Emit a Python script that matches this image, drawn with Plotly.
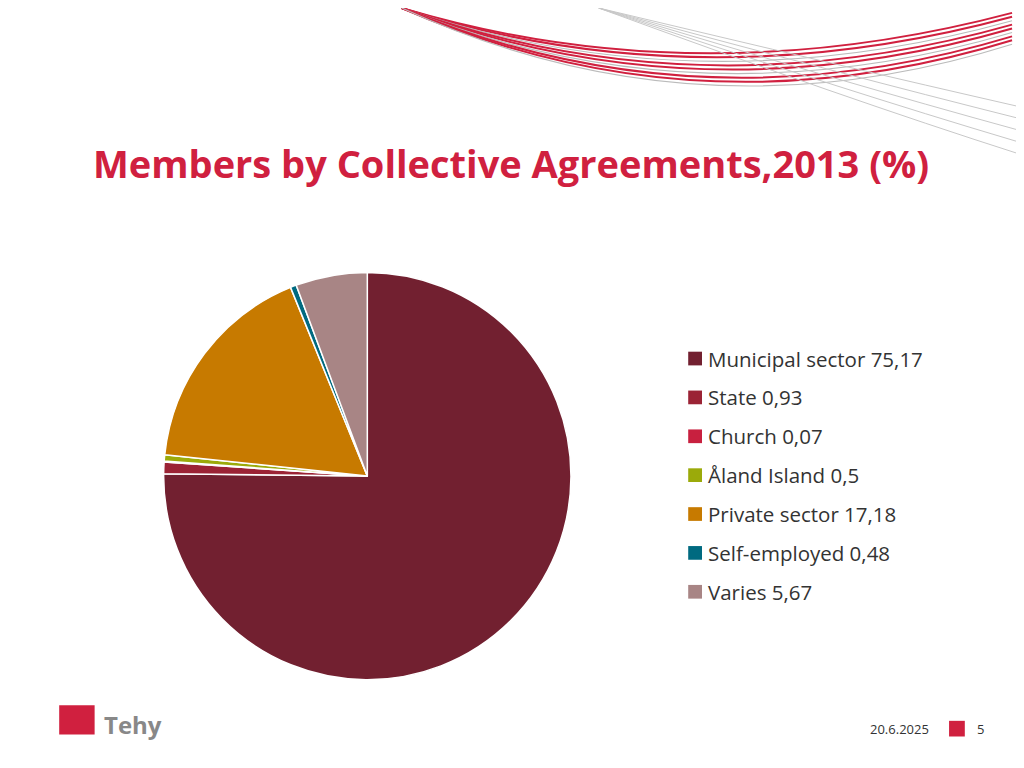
import plotly.graph_objects as go

labels = ["Municipal sector", "State", "Church", "Åland Island", "Private sector", "Self-employed", "Varies"]
values = [75.17, 0.93, 0.07, 0.5, 17.18, 0.48, 5.67]
value_text = ["75,17", "0,93", "0,07", "0,5", "17,18", "0,48", "5,67"]
colors = ["#722030", "#9B2335", "#C8203F", "#9BAA0A", "#C77A00", "#006A80", "#A88585"]

W, H = 1024, 768
fig = go.Figure()
fig.add_trace(go.Pie(
    labels=labels, values=values, sort=False, direction="clockwise", rotation=0,
    marker=dict(colors=colors, line=dict(color="white", width=1.5)),
    textinfo="none", hoverinfo="label+value", showlegend=False,
    domain=dict(x=[157 / W, 573 / W], y=[1 - 686 / H, 1 - 270 / H]),
))

shapes = []
annotations = []
# manual legend
for i, (lab, txt, col) in enumerate(zip(labels, value_text, colors)):
    yc = 1 - (358 + 39.7 * i) / H
    shapes.append(dict(type="rect", xref="paper", yref="paper",
                       x0=691 / W, x1=705 / W, y0=yc - 7 / H, y1=yc + 7 / H,
                       fillcolor=col, line=dict(width=0)))
    annotations.append(dict(x=709 / W, y=yc, xref="paper", yref="paper", xanchor="left",
                            yanchor="middle", showarrow=False, text=f"{lab} {txt}",
                            font=dict(size=20.5, color="#333333")))

# decorative swoosh lines at top
for k in range(9):
    col = "#D0203F" if k % 3 != 2 else "#BBBBBB"
    y0 = -5 + k * 4
    shapes.append(dict(type="path", xref="paper", yref="paper",
                       path=f"M {400/W},{1-(0)/H} Q {700/W},{1-(90+k*6)/H} {1020/W},{1-(y0+10)/H}",
                       line=dict(color=col, width=2 if col != "#BBBBBB" else 1.2)))
for k in range(5):
    shapes.append(dict(type="path", xref="paper", yref="paper",
                       path=f"M {600/W},{1-(0)/H} Q {850/W},{1-(60+k*8)/H} {1024/W},{1-(100+k*12)/H}",
                       line=dict(color="#C8C8C8", width=1)))

# footer
shapes.append(dict(type="rect", xref="paper", yref="paper", x0=956 / W, x1=972 / W,
                   y0=1 - 744 / H, y1=1 - 728 / H, fillcolor="#D0203F", line=dict(width=0)))
shapes.append(dict(type="rect", xref="paper", yref="paper", x0=52 / W, x1=88 / W,
                   y0=1 - 742 / H, y1=1 - 712 / H, fillcolor="#D0203F", line=dict(width=0)))
annotations += [
    dict(x=84 / W, y=1 - 158 / H, xref="paper", yref="paper", xanchor="left", yanchor="middle",
         showarrow=False, text="<b>Members by Collective Agreements,2013 (%)</b>",
         font=dict(size=38, color="#D0203F", family="Open Sans")),
    dict(x=938 / W, y=1 - 736 / H, xref="paper", yref="paper", xanchor="right", yanchor="middle",
         showarrow=False, text="20.6.2025", font=dict(size=13, color="#333333")),
    dict(x=982 / W, y=1 - 736 / H, xref="paper", yref="paper", xanchor="left", yanchor="middle",
         showarrow=False, text="5", font=dict(size=13, color="#333333")),
    dict(x=95 / W, y=1 - 732 / H, xref="paper", yref="paper", xanchor="left", yanchor="middle",
         showarrow=False, text="<b>Tehy</b>", font=dict(size=24, color="#888888")),
]

fig.update_layout(
    autosize=True, margin=dict(l=0, r=0, t=0, b=0),
    paper_bgcolor="white", plot_bgcolor="white",
    font=dict(family="Open Sans"),
    shapes=shapes, annotations=annotations,
)
fig.write_html("out.html", default_width="100%", default_height="100%")
